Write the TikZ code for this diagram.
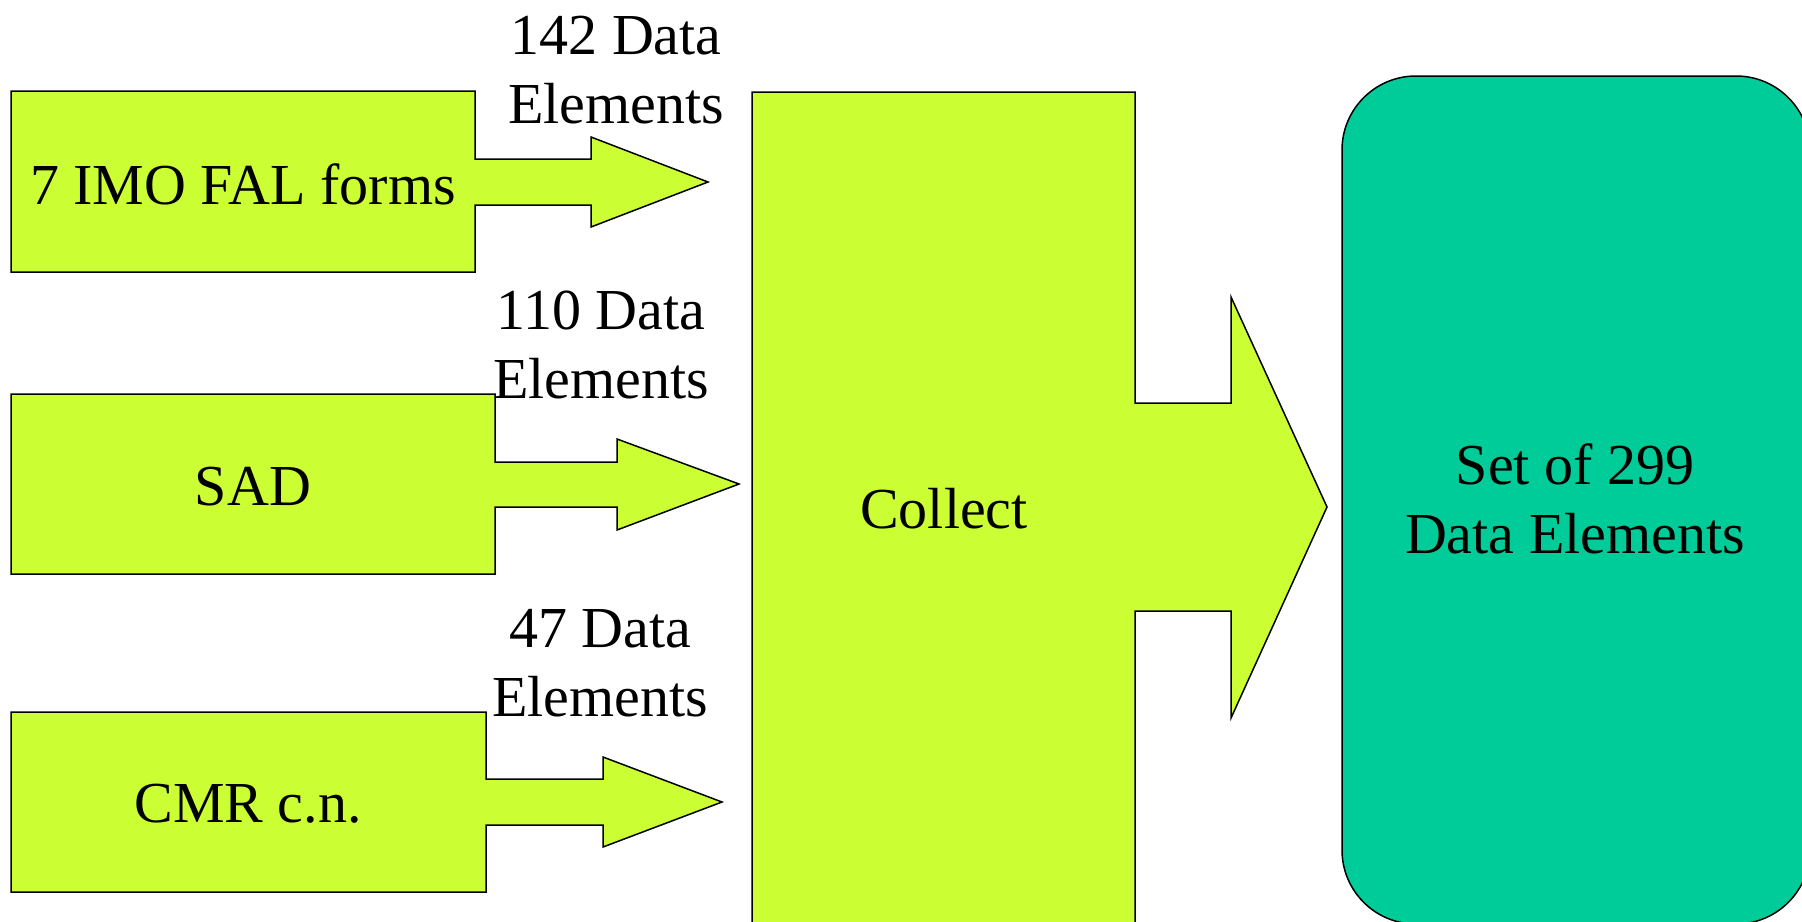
\documentclass[tikz,border=0pt]{standalone}
\usepackage{fontspec}
\setmainfont{Liberation Serif}
\definecolor{lime}{HTML}{CCFF33}
\definecolor{teal2}{HTML}{00CC99}
\begin{document}
\begin{tikzpicture}[x=0.5pt,y=-0.5pt,
  shapebox/.style={fill=lime,draw=black,line width=0.75pt,line join=miter},
  setbox/.style={fill=teal2,draw=black,line width=0.75pt,rounded corners=37pt},
  lbl/.style={inner sep=0pt,align=center,font=\fontsize{29}{34.5}\selectfont}]
\useasboundingbox (0,0) rectangle (1802,921);
\clip (0,0) rectangle (1802,921);
% source block arrows
\path[shapebox] (11,91) -- (475,91) -- (475,159) -- (591,159) -- (591,137) -- (708,182)
  -- (591,227) -- (591,205) -- (475,205) -- (475,272) -- (11,272) -- cycle;
\path[shapebox] (11,394) -- (495,394) -- (495,462) -- (617,462) -- (617,439) -- (739,484)
  -- (617,530) -- (617,507) -- (495,507) -- (495,574) -- (11,574) -- cycle;
\path[shapebox] (11,712) -- (486,712) -- (486,779) -- (603,779) -- (603,757) -- (722,802)
  -- (603,847) -- (603,825) -- (486,825) -- (486,892) -- (11,892) -- cycle;
% collect block arrow
\path[shapebox] (752,92) -- (1135,92) -- (1135,403) -- (1231,403) -- (1231,297) -- (1327,507)
  -- (1231,718) -- (1231,611) -- (1135,611) -- (1135,924) -- (752,924) -- cycle;
% result
\path[setbox] (1342,76) rectangle (1810,924);
% labels
\node[lbl] (fal) at (243,184) {7 IMO FAL forms};
\node[lbl] (sad) at (253,487) {SAD};
\node[lbl] (cmr) at (248,804) {CMR c.n.};
\node[lbl] (n142) at (616,70) {142 Data\\Elements};
\node[lbl] (n110) at (601,345) {110 Data\\Elements};
\node[lbl] (n47) at (600,663) {47 Data\\Elements};
\node[lbl] (collect) at (944,509) {Collect};
\node[lbl] (set) at (1575,499) {Set of 299\\Data Elements};
\end{tikzpicture}
\end{document}
